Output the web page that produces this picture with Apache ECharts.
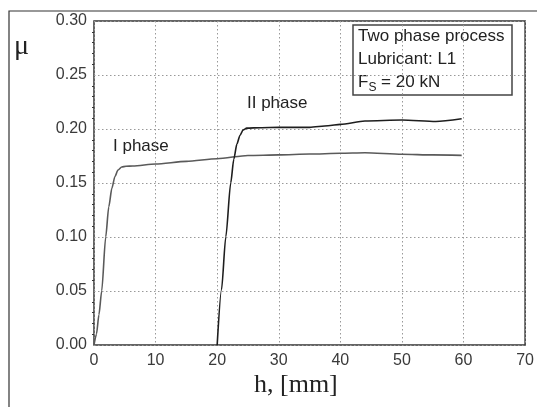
<!DOCTYPE html>
<html>
<head>
<meta charset="utf-8">
<script src="https://cdn.jsdelivr.net/npm/echarts@6/dist/echarts.min.js"></script>
<style>
  html, body { margin: 0; padding: 0; background: #fff; }
  #chart { width: 537px; height: 407px; }
</style>
</head>
<body>
<div id="chart"></div>
<script>
// I phase: h [mm] and friction coefficient
const phase1H = [0, 0.4, 0.8, 1.25, 1.9, 2.4, 2.9, 3.4, 3.9, 4.5, 5.2, 6.3, 10, 15, 20, 25, 30, 35, 40, 44, 50, 55, 59.7];
const phase1Mu = [0, 0.01, 0.028, 0.05, 0.1, 0.128, 0.145, 0.156, 0.162, 0.1648, 0.1655, 0.1658, 0.1676, 0.170, 0.1725, 0.1755, 0.176, 0.1768, 0.1775, 0.178, 0.1766, 0.176, 0.1756];

// II phase
const phase2H = [20, 20.7, 21.4, 22.2, 22.7, 23.2, 23.7, 24.2, 24.8, 27, 30, 35, 38, 40, 44, 50, 55.5, 59.7];
const phase2Mu = [0, 0.051, 0.1, 0.15, 0.172, 0.186, 0.194, 0.199, 0.2008, 0.2012, 0.2015, 0.2015, 0.203, 0.2043, 0.2074, 0.2083, 0.207, 0.2095];

function zip(xs, ys) {
    return xs.map(function (x, i) {
        return [x, ys[i]];
    });
}

const chart = echarts.init(document.getElementById('chart'), null, { renderer: 'canvas' });

const tickFont = {
    color: '#3a3a3a',
    fontFamily: 'Liberation Sans, Arial, sans-serif',
    fontSize: 16
};

const option = {
    backgroundColor: '#fff',
    animation: false,
    grid: {
        left: 94,
        top: 21,
        right: 11,
        bottom: 62,
        show: true,
        borderColor: '#333',
        borderWidth: 1.5
    },
    xAxis: {
        type: 'value',
        min: 0,
        max: 70,
        interval: 10,
        axisLine: { show: false },
        axisTick: { show: false },
        axisLabel: Object.assign({ margin: 8 }, tickFont),
        splitLine: {
            show: true,
            lineStyle: { color: '#999', type: [1.5, 2.5], width: 1 }
        }
    },
    yAxis: {
        type: 'value',
        min: 0,
        max: 0.3,
        interval: 0.05,
        axisLine: { show: false },
        axisTick: { show: false },
        minorTick: {
            show: true,
            splitNumber: 5,
            length: 2,
            lineStyle: { color: '#333', width: 1 }
        },
        axisLabel: Object.assign({
            margin: 7,
            formatter: function (v) { return v.toFixed(2); }
        }, tickFont),
        splitLine: {
            show: true,
            lineStyle: { color: '#999', type: [1.5, 2.5], width: 1 }
        }
    },
    series: [
        {
            name: 'I phase',
            type: 'line',
            data: zip(phase1H, phase1Mu),
            showSymbol: false,
            smooth: 0.25,
            smoothMonotone: 'x',
            lineStyle: { color: '#5a5a5a', width: 1.6 }
        },
        {
            name: 'II phase',
            type: 'line',
            data: zip(phase2H, phase2Mu),
            showSymbol: false,
            smooth: 0.25,
            smoothMonotone: 'x',
            lineStyle: { color: '#1e1e1e', width: 1.6 }
        }
    ],
    graphic: [
        // outer frame
        {
            type: 'polyline',
            shape: { points: [[9, 407], [9, 11], [537, 11]] },
            style: { stroke: '#333', lineWidth: 1.2, fill: null }
        },
        {
            type: 'text',
            left: 14,
            top: 33,
            style: {
                text: 'μ',
                fontFamily: 'Liberation Serif, Times New Roman, serif',
                fontSize: 28,
                fill: '#222'
            }
        },
        {
            type: 'text',
            left: 254,
            top: 372,
            style: {
                text: 'h, [mm]',
                fontFamily: 'Liberation Serif, Times New Roman, serif',
                fontSize: 26,
                fill: '#222'
            }
        },
        {
            type: 'text',
            left: 113,
            top: 138,
            style: {
                text: 'I phase',
                fontFamily: 'Liberation Sans, Arial, sans-serif',
                fontSize: 17,
                fill: '#222'
            }
        },
        {
            type: 'text',
            left: 247,
            top: 95,
            style: {
                text: 'II phase',
                fontFamily: 'Liberation Sans, Arial, sans-serif',
                fontSize: 17,
                fill: '#222'
            }
        },
        {
            type: 'rect',
            shape: { x: 353, y: 25, width: 159, height: 70 },
            style: { fill: '#fff', stroke: '#444', lineWidth: 1.5 }
        },
        {
            type: 'text',
            left: 358,
            top: 28,
            style: {
                text: '{t|Two phase process}\n{t|Lubricant: L1}\n{t|F}{s|S}{t| = 20 kN}',
                fill: '#222',
                rich: {
                    t: {
                        fontFamily: 'Liberation Sans, Arial, sans-serif',
                        fontSize: 17,
                        lineHeight: 23,
                        fill: '#222'
                    },
                    s: {
                        fontFamily: 'Liberation Sans, Arial, sans-serif',
                        fontSize: 12,
                        lineHeight: 23,
                        verticalAlign: 'bottom',
                        padding: [8, 0, 0, 0],
                        fill: '#222'
                    }
                }
            }
        }
    ]
};

chart.setOption(option);
</script>
</body>
</html>
